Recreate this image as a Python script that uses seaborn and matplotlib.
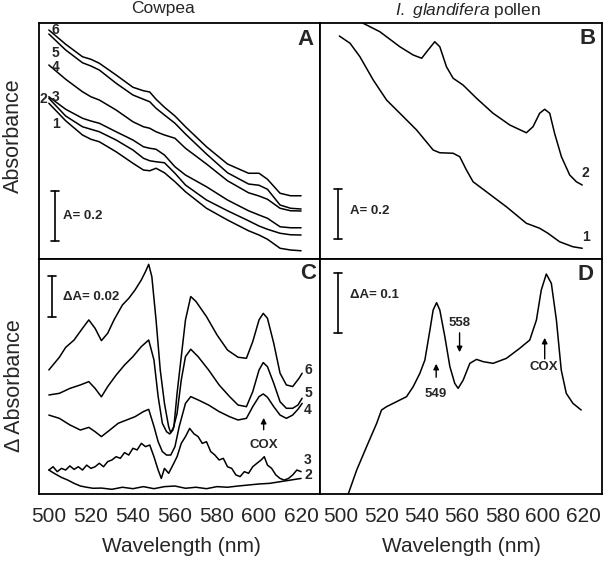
import pandas as pd
import matplotlib
matplotlib.use("Agg")
import matplotlib.pyplot as plt
import seaborn as sns

# ---- Panel A: cowpea absorbance spectra (A units) ----
A_WL = [500, 508, 516, 520, 524, 532, 540, 545, 548, 551, 555, 560, 565,
        575, 585, 595, 600, 604, 610, 615, 620]
A_1 = [0.623, 0.553, 0.496, 0.479, 0.469, 0.429, 0.383, 0.356, 0.353, 0.363, 0.345,
       0.309, 0.269, 0.203, 0.156, 0.113, 0.096, 0.079, 0.043, 0.036, 0.033]
A_2 = [0.643, 0.572, 0.529, 0.519, 0.509, 0.476, 0.436, 0.403, 0.393, 0.389, 0.385,
       0.343, 0.296, 0.236, 0.193, 0.153, 0.132, 0.119, 0.103, 0.097, 0.096]
A_3 = [0.649, 0.599, 0.563, 0.552, 0.543, 0.509, 0.476, 0.449, 0.443, 0.439, 0.416,
       0.369, 0.336, 0.289, 0.236, 0.193, 0.176, 0.163, 0.129, 0.125, 0.125]
A_4 = [0.776, 0.719, 0.669, 0.649, 0.636, 0.596, 0.549, 0.529, 0.523, 0.509, 0.496,
       0.483, 0.443, 0.380, 0.313, 0.265, 0.252, 0.239, 0.203, 0.193, 0.192]
A_5 = [0.900, 0.836, 0.785, 0.772, 0.756, 0.703, 0.656, 0.639, 0.629, 0.603, 0.576,
       0.543, 0.500, 0.420, 0.345, 0.300, 0.295, 0.279, 0.216, 0.203, 0.200]
A_6 = [0.916, 0.859, 0.809, 0.799, 0.783, 0.736, 0.687, 0.673, 0.668, 0.639, 0.607,
       0.572, 0.529, 0.449, 0.380, 0.343, 0.343, 0.319, 0.263, 0.253, 0.253]
A_LABELS = ["1", "2", "3", "4", "5", "6"]
A_LABEL_POS = [(503.3, 0.540), (497.6, 0.640), (503.3, 0.648),
               (503.3, 0.768), (503.0, 0.824), (503.3, 0.916)]

# ---- Panel B: I. glandifera pollen absorbance ----
B1_WL = [499.2, 504.5, 509.4, 516.0, 522.6, 529.2, 537.5, 545.7, 549.0, 555.6, 558.9,
         562.2, 565.5, 572.1, 582.0, 591.9, 598.5, 602.6, 608.4, 615.0, 619.6]
B1 = [0.892, 0.863, 0.809, 0.716, 0.636, 0.583, 0.516, 0.436, 0.425, 0.423, 0.409,
      0.356, 0.309, 0.269, 0.209, 0.143, 0.123, 0.103, 0.069, 0.049, 0.043]
B2_WL = [505.0, 511.0, 519.3, 529.2, 535.8, 540.0, 543.2, 546.5, 549.0, 552.3, 555.6,
         560.5, 567.2, 575.4, 583.7, 591.9, 595.2, 598.5, 601.0, 603.5, 605.9, 609.3,
         613.4, 616.7, 619.6]
B2 = [0.990, 0.943, 0.909, 0.849, 0.816, 0.803, 0.836, 0.869, 0.849, 0.769, 0.723,
      0.696, 0.643, 0.583, 0.536, 0.505, 0.529, 0.583, 0.599, 0.583, 0.503, 0.409,
      0.336, 0.309, 0.296]

# ---- Panel C: cowpea difference spectra (mA units) ----
C6_WL = [500, 505, 508, 512, 516, 519, 522, 525, 528, 531, 535, 538, 541, 544, 546,
         547.5, 549, 551, 553, 555, 557, 558, 559.5, 561, 563, 565, 567.5, 570, 575,
         580, 585, 590, 594, 597, 600, 602, 604, 607, 610, 613, 616, 619, 620.5]
C6 = [60.5, 66.7, 71.5, 75.1, 80.8, 84.9, 80.8, 74.8, 78.4, 84.9, 92.2, 95.4, 99.5,
      104.4, 108.5, 112.0, 106.0, 84.9, 60.5, 44.2, 32.8, 29.9, 32.8, 49.1, 67.0,
      84.9, 96.3, 93.9, 86.5, 77.6, 70.2, 66.7, 66.2, 74.3, 84.9, 88.1, 85.7, 73.5,
      58.9, 53.2, 52.4, 56.4, 58.9]
C5_WL = [500, 505, 510, 515, 519, 522, 525, 528, 532, 536, 540, 544, 547.5, 550, 552,
         554, 556, 557.5, 559, 561, 563, 565, 567.5, 571, 576, 581, 586, 590, 594,
         597, 600, 602, 604, 607, 610, 613, 616, 618.5, 620.5]
C5 = [48.3, 49.1, 51.5, 53.2, 54.8, 51.5, 47.4, 52.4, 58.0, 62.9, 67.0, 71.9, 75.1,
      65.4, 47.5, 34.5, 30.4, 29.3, 31.2, 39.3, 55.6, 67.0, 70.6, 67.0, 60.5, 53.2,
      47.5, 43.4, 42.6, 49.9, 60.5, 64.1, 62.1, 54.0, 45.0, 41.8, 41.8, 43.4, 46.7]
C4_WL = [500, 505, 510, 515, 519, 522, 525, 529, 533, 537, 541, 545, 547.5, 550, 552,
         554, 556, 558, 560, 562, 565, 567.5, 571, 576, 581, 586, 590, 594, 597, 600,
         602, 604, 607, 610, 613, 616, 618.5, 620.5]
C4 = [38.5, 36.9, 33.7, 31.2, 32.5, 30.4, 28.0, 31.2, 34.5, 36.1, 37.7, 40.2, 41.3,
      33.0, 25.5, 20.7, 19.0, 19.0, 23.1, 32.8, 44.2, 47.5, 45.9, 43.4, 40.2, 37.7,
      36.1, 36.9, 42.6, 47.5, 48.8, 47.2, 42.6, 38.5, 36.9, 38.5, 41.3, 44.2]
C3_WL = [500, 502, 504, 506, 508, 510, 512, 514, 516, 518, 520, 522, 524, 526, 528,
         530, 532, 534, 536, 538, 540, 542, 544, 546, 548, 550, 552, 553.5, 555, 557,
         559, 561, 563, 565, 567, 569, 571, 573, 575, 577, 579, 581, 583, 585, 587,
         589, 591, 593, 595, 597, 599, 601, 602.5, 604, 606, 608, 610, 612, 614, 616,
         618, 620]
C3 = [11.7, 13.3, 10.9, 12.5, 11.7, 13.7, 12.0, 13.3, 11.7, 14.1, 12.5, 13.3, 15.0,
      13.3, 15.8, 16.6, 18.2, 17.4, 20.2, 19.0, 22.3, 21.5, 24.7, 23.1, 23.9, 18.2,
      11.7, 7.6, 12.5, 10.1, 14.1, 18.2, 24.7, 28.0, 32.0, 29.4, 28.0, 24.7, 25.5,
      20.7, 19.0, 16.6, 17.4, 13.3, 12.5, 9.3, 8.5, 10.9, 10.1, 13.3, 15.0, 16.6,
      18.2, 14.1, 12.5, 9.3, 7.6, 6.8, 7.6, 9.3, 11.7, 10.9]
C2_WL = [500, 503, 506, 509, 512, 515, 518, 521, 525, 530, 535, 540, 545, 550, 555,
         560, 565, 570, 575, 580, 585, 590, 595, 600, 605, 610, 615, 620]
C2 = [11.7, 9.8, 8.1, 6.8, 5.2, 3.9, 3.3, 2.8, 2.9, 2.3, 3.3, 2.6, 3.6, 2.6, 3.6,
      3.9, 2.8, 3.3, 2.6, 3.6, 3.3, 3.9, 4.4, 4.9, 5.2, 6.0, 6.8, 7.6]
C_LABELS = ["6", "5", "4", "3", "2"]
C_LABEL_Y = [60.5, 49.3, 41.0, 16.6, 9.3]

# ---- Panel D: pollen difference spectrum (mA units) ----
D_WL = [502.0, 503.6, 507.8, 512.7, 517.7, 520.1, 522.6, 525.9, 529.2, 532.5, 535.8,
        539.1, 541.6, 544.1, 545.7, 547.4, 549.0, 551.5, 554.0, 556.4, 558.1, 560.6,
        563.9, 567.2, 570.5, 575.4, 582.0, 588.6, 593.6, 596.9, 599.3, 601.8, 604.3,
        606.8, 609.2, 611.7, 615.0, 619.1]
D = [-10.0, 0.0, 40.0, 78.9, 117.8, 140.0, 145.6, 151.1, 156.7, 162.2, 178.9, 201.1,
     223.3, 273.3, 306.7, 318.9, 306.7, 262.2, 212.2, 184.4, 176.1, 190.0, 217.8,
     224.4, 220.6, 217.8, 226.1, 242.8, 256.7, 290.0, 340.0, 366.7, 351.1, 290.0,
     206.7, 167.8, 151.1, 140.0]

sns.set_style("white")
plt.rcParams["font.family"] = ["Liberation Sans", "DejaVu Sans"]
plt.rcParams["mathtext.fontset"] = "custom"
plt.rcParams["mathtext.rm"] = "Liberation Sans"
plt.rcParams["mathtext.it"] = "Liberation Sans:italic"

fig = plt.figure(figsize=(6.08, 5.61), dpi=100)
ax_a = fig.add_axes([0.0641, 0.5383, 0.4622, 0.4207])
ax_b = fig.add_axes([0.5263, 0.5383, 0.4638, 0.4207])
ax_c = fig.add_axes([0.0641, 0.1194, 0.4622, 0.4189])
ax_d = fig.add_axes([0.5263, 0.1194, 0.4638, 0.4189])

LW = 1.1


def curve(ax, wl, vals):
    sns.lineplot(x=wl, y=vals, ax=ax, color="black", lw=LW,
                 estimator=None, errorbar=None, sort=False)


def style(ax, xlim, ylim, labels):
    ax.set_xlim(*xlim)
    ax.set_ylim(*ylim)
    ax.set_xticks(range(500, 621, 20))
    ax.set_xticks(range(510, 620, 20), minor=True)
    ax.set_yticks([])
    ax.tick_params(axis="x", which="major", direction="in", length=7, width=1.2,
                   labelsize=15, pad=9, labelbottom=labels)
    ax.tick_params(axis="x", which="minor", direction="in", length=3.5, width=1.2)
    ax.set_xlabel("")
    ax.set_ylabel("")
    for s in ax.spines.values():
        s.set_linewidth(1.3)
        s.set_color("black")


def scale_bar(ax, x, y0, y1, cap, text, tx, ty):
    ax.plot([x, x], [y0, y1], color="black", lw=1.2)
    ax.plot([x - cap, x + cap], [y0, y0], color="black", lw=1.2)
    ax.plot([x - cap, x + cap], [y1, y1], color="black", lw=1.2)
    ax.text(tx, ty, text, fontsize=9.5, fontweight="bold", va="center", ha="left")


# panel A
long_a = pd.DataFrame({
    "wl": A_WL * 6,
    "abs": A_1 + A_2 + A_3 + A_4 + A_5 + A_6,
    "curve": sum([[lab] * len(A_WL) for lab in A_LABELS], []),
})
sns.lineplot(data=long_a, x="wl", y="abs", units="curve", estimator=None,
             color="black", lw=LW, ax=ax_a)
for lab, (x, y) in zip(A_LABELS, A_LABEL_POS):
    ax_a.text(x, y, lab, fontsize=10, fontweight="bold", ha="center", va="center")
scale_bar(ax_a, 502.9, 0.072, 0.272, 2.0, "A= 0.2", 506.7, 0.172)
style(ax_a, (495.3, 629.0), (0, 0.944), False)

# panel B
curve(ax_b, B1_WL, B1)
curve(ax_b, B2_WL, B2)
ax_b.text(621.3, 0.344, "2", fontsize=10, fontweight="bold", ha="center", va="center")
ax_b.text(621.3, 0.088, "1", fontsize=10, fontweight="bold", ha="center", va="center")
scale_bar(ax_b, 498.5, 0.08, 0.28, 2.0, "A= 0.2", 504.5, 0.192)
style(ax_b, (489.6, 629.4), (0, 0.944), False)

# panel C
for wl, vals in [(C6_WL, C6), (C5_WL, C5), (C4_WL, C4), (C3_WL, C3), (C2_WL, C2)]:
    curve(ax_c, wl, vals)
for lab, y in zip(C_LABELS, C_LABEL_Y):
    ax_c.text(623.3, y, lab, fontsize=10, fontweight="bold", ha="center", va="center")
scale_bar(ax_c, 501.4, 86.3, 106.3, 2.0, "\u0394A= 0.02", 506.7, 96.1)
ax_c.annotate("", xy=(602.2, 38.5), xytext=(602.2, 30.0),
              arrowprops=dict(arrowstyle="-|>", color="black", lw=1.0, mutation_scale=8))
ax_c.text(602.4, 23.9, "COX", fontsize=9.5, fontweight="bold", ha="center", va="center")
style(ax_c, (495.3, 629.0), (0, 114.6), True)

# panel D
curve(ax_d, D_WL, D)
scale_bar(ax_d, 498.5, 268.4, 368.4, 2.0, "\u0394A= 0.1", 504.5, 331.7)
ax_d.annotate("", xy=(547.2, 221.7), xytext=(547.2, 190.0),
              arrowprops=dict(arrowstyle="-|>", color="black", lw=1.0, mutation_scale=8))
ax_d.text(547.0, 166.7, "549", fontsize=9.5, fontweight="bold", ha="center", va="center")
ax_d.annotate("", xy=(558.8, 231.7), xytext=(558.8, 273.3),
              arrowprops=dict(arrowstyle="-|>", color="black", lw=1.0, mutation_scale=8))
ax_d.text(558.6, 284.5, "558", fontsize=9.5, fontweight="bold", ha="center", va="center")
ax_d.annotate("", xy=(601.0, 265.0), xytext=(601.0, 220.6),
              arrowprops=dict(arrowstyle="-|>", color="black", lw=1.0, mutation_scale=8))
ax_d.text(600.6, 211.1, "COX", fontsize=9.5, fontweight="bold", ha="center", va="center")
style(ax_d, (489.6, 629.4), (0, 391.7), True)

# panel letters
for ax, letter, x, y in [(ax_a, "A", 0.947, 0.928), (ax_b, "B", 0.950, 0.936),
                         (ax_c, "C", 0.957, 0.940), (ax_d, "D", 0.943, 0.932)]:
    ax.text(x, y, letter, transform=ax.transAxes, fontsize=16, fontweight="bold",
            ha="center", va="center")

# titles and axis labels
fig.text(163.5 / 608, 1 - 9 / 561, "Cowpea", fontsize=12.5, ha="center", va="center")
fig.text(468 / 608, 1 - 10 / 561, "$\\it{I.\\ glandifera}$ pollen", fontsize=12.5,
         ha="center", va="center")
fig.text(13 / 608, 1 - 136 / 561, "Absorbance", fontsize=15.5, rotation=90,
         ha="center", va="center")
fig.text(15 / 608, 1 - 386 / 561, "\u0394 Absorbance", fontsize=15.5, rotation=90,
         ha="center", va="center")
fig.text(181 / 608, 1 - 547 / 561, "Wavelength (nm)", fontsize=15, ha="center", va="center")
fig.text(461 / 608, 1 - 547 / 561, "Wavelength (nm)", fontsize=15, ha="center", va="center")

fig.savefig("out.png", dpi=100)
